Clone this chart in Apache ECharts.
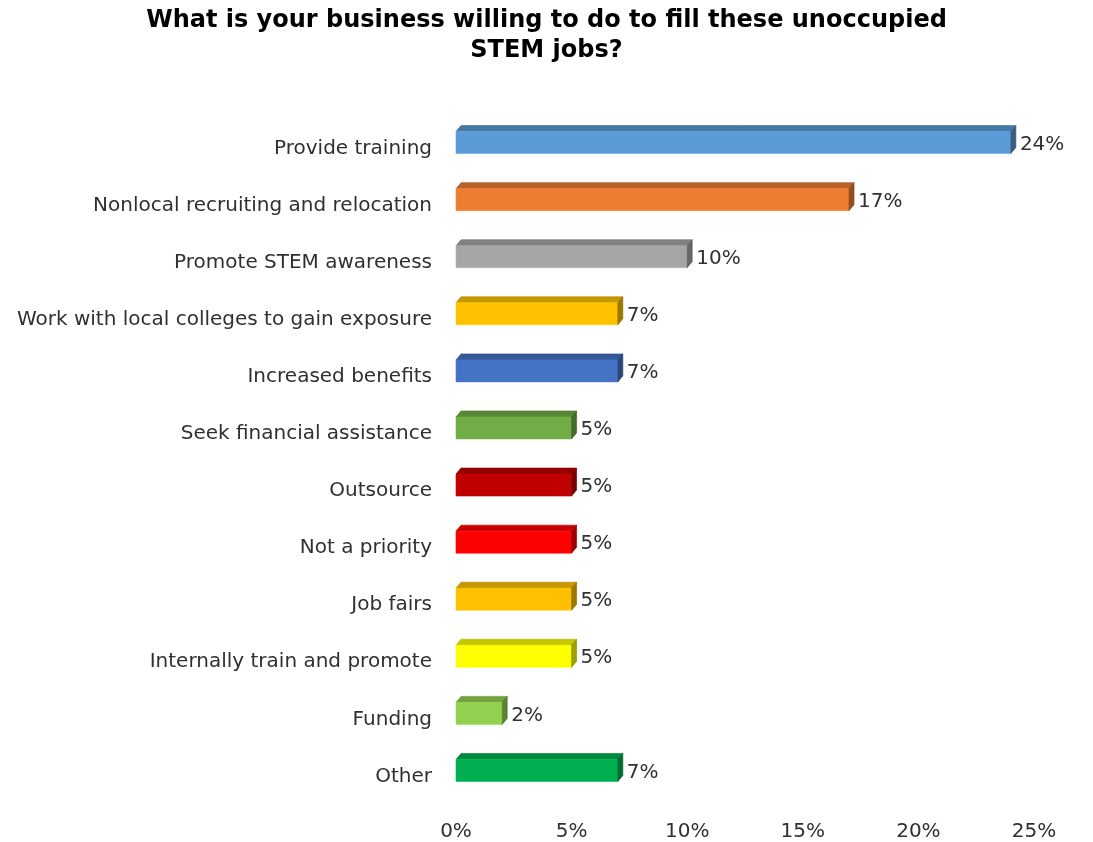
<!DOCTYPE html>
<html>
<head>
<meta charset="utf-8">
<title>STEM jobs</title>
<script src="https://cdn.jsdelivr.net/npm/echarts@6/dist/echarts.min.js"></script>
<style>
  html, body { margin: 0; padding: 0; background: #ffffff; }
  #chart { width: 1093px; height: 842px; }
</style>
</head>
<body>
<div id="chart"></div>
<script>
// Survey answers, top to bottom
const categories = [
  'Provide training',
  'Nonlocal recruiting and relocation',
  'Promote STEM awareness',
  'Work with local colleges to gain exposure',
  'Increased benefits',
  'Seek financial assistance',
  'Outsource',
  'Not a priority',
  'Job fairs',
  'Internally train and promote',
  'Funding',
  'Other'
];
// Share of respondents, percent
const values = [24, 17, 10, 7, 7, 5, 5, 5, 5, 5, 2, 7];
// Fill colour of each bar
const barColors = [
  '#5B9BD5', '#ED7D31', '#A5A5A5', '#FFC000', '#4472C4', '#70AD47',
  '#C00000', '#FF0000', '#FFC000', '#FFFF00', '#92D050', '#00B050'
];
const tickLabels = ['0%', '5%', '10%', '15%', '20%', '25%'];

function shade(hex, f) {
  const n = parseInt(hex.slice(1), 16);
  const r = Math.min(255, Math.round(((n >> 16) & 255) * f));
  const g = Math.min(255, Math.round(((n >> 8) & 255) * f));
  const b = Math.min(255, Math.round((n & 255) * f));
  return 'rgb(' + r + ',' + g + ',' + b + ')';
}

const FONT = '"DejaVu Sans", Verdana, sans-serif';
const TEXT_COLOR = '#303030';
const DEPTH_X = 5, DEPTH_Y = 6, FACE_H = 22, LIFT = 6;

// Draws a bar with a front face, a top face and a right side face
function renderBar(params, api) {
  const idx = api.value(0);
  const val = api.value(1);
  const start = api.coord([0, idx]);
  const end = api.coord([val, idx]);
  const cy = start[1] - LIFT;
  const x0 = start[0], x1 = end[0];
  const y0 = cy - FACE_H / 2, y1 = cy + FACE_H / 2;
  const col = barColors[idx];
  return {
    type: 'group',
    children: [
      {
        type: 'polygon',
        shape: { points: [[x0, y0], [x0 + DEPTH_X, y0 - DEPTH_Y], [x1 + DEPTH_X, y0 - DEPTH_Y], [x1, y0]] },
        style: { fill: shade(col, 0.78), stroke: shade(col, 0.7), lineWidth: 0.6 }
      },
      {
        type: 'rect',
        shape: { x: x0, y: y0, width: x1 - x0, height: FACE_H },
        style: { fill: col, stroke: shade(col, 1.08), lineWidth: 0.6 }
      },
      {
        type: 'polygon',
        shape: { points: [[x1, y0], [x1 + DEPTH_X, y0 - DEPTH_Y], [x1 + DEPTH_X, y1 - DEPTH_Y], [x1, y1]] },
        style: { fill: shade(col, 0.62), stroke: shade(col, 0.55), lineWidth: 0.6 }
      },
      {
        type: 'text',
        style: {
          text: val + '%',
          x: x1 + DEPTH_X + 4,
          y: cy + 2,
          verticalAlign: 'middle',
          align: 'left',
          fill: TEXT_COLOR,
          font: '20px ' + FONT
        }
      }
    ]
  };
}

const chart = echarts.init(document.getElementById('chart'), null, { renderer: 'canvas' });
chart.setOption({
  animation: false,
  backgroundColor: '#ffffff',
  title: {
    text: 'What is your business willing to do to fill these unoccupied\nSTEM jobs?',
    left: 'center',
    top: 1,
    textStyle: { fontFamily: FONT, fontWeight: 'bold', fontSize: 24, color: '#000000', lineHeight: 30 }
  },
  grid: { left: 456, right: 59, top: 120, bottom: 37, containLabel: false },
  xAxis: {
    type: 'value',
    min: 0,
    max: 25,
    interval: 5,
    axisLine: { show: false },
    axisTick: { show: false },
    splitLine: { show: false },
    axisLabel: {
      margin: 17,
      fontFamily: FONT,
      fontSize: 20,
      color: TEXT_COLOR,
      formatter: function (v) { return tickLabels[Math.round(v / 5)]; }
    }
  },
  yAxis: {
    type: 'category',
    inverse: true,
    data: categories,
    axisLine: { show: false },
    axisTick: { show: false },
    axisLabel: { margin: 24, fontFamily: FONT, fontSize: 20, color: TEXT_COLOR }
  },
  series: [{
    type: 'custom',
    renderItem: renderBar,
    encode: { x: 1, y: 0 },
    data: values.map(function (v, i) { return [i, v]; })
  }]
});
</script>
</body>
</html>
